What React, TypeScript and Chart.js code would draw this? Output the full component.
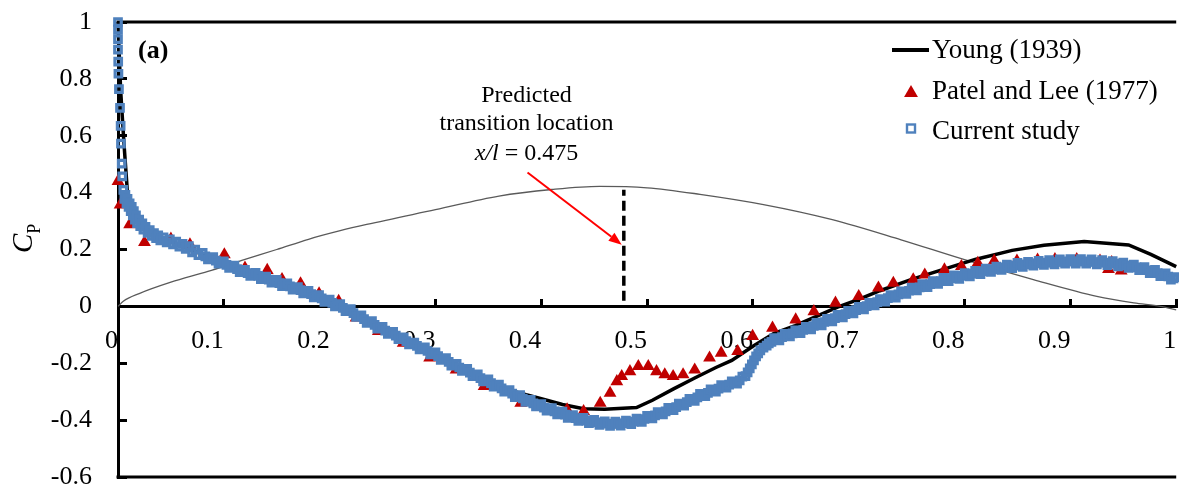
import React, { useEffect, useRef } from 'react';
import { Chart, registerables } from 'chart.js';

Chart.register(...registerables);

const FONT = '"Liberation Serif", "Times New Roman", serif';

const xTickValues = [0, 0.1, 0.2, 0.3, 0.4, 0.5, 0.6, 0.7, 0.8, 0.9, 1];
const xTickLabels = ['0', '0.1', '0.2', '0.3', '0.4', '0.5', '0.6', '0.7', '0.8', '0.9', '1'];
const yTickValues = [-0.6, -0.4, -0.2, 0, 0.2, 0.4, 0.6, 0.8, 1];
const yTickLabels = ['-0.6', '-0.4', '-0.2', '0', '0.2', '0.4', '0.6', '0.8', '1'];

const seriesNames = ['Young (1939)', 'Patel and Lee (1977)', 'Current study'];
const annotationLines = ['Predicted', 'transition location'];
const annotationItalic = 'x/l';
const annotationValue = ' = 0.475';

// Young (1939)
const youngData: [number, number][] = [
  [0, 1.0], [0.0025, 0.76], [0.0056, 0.575], [0.0094, 0.375], [0.015, 0.33], [0.02, 0.3],
  [0.03, 0.265], [0.05, 0.228], [0.075, 0.19], [0.1, 0.155], [0.125, 0.12], [0.15, 0.088],
  [0.175, 0.055], [0.2, 0.02], [0.225, -0.025], [0.25, -0.075], [0.275, -0.122], [0.3, -0.168],
  [0.325, -0.215], [0.35, -0.26], [0.375, -0.3], [0.4, -0.325], [0.42, -0.345], [0.44, -0.36],
  [0.46, -0.362], [0.49, -0.356], [0.505, -0.33], [0.525, -0.29], [0.545, -0.252], [0.565, -0.215],
  [0.58, -0.19], [0.6, -0.14], [0.62, -0.095], [0.64, -0.068], [0.66, -0.035], [0.68, -0.003],
  [0.7, 0.025], [0.72, 0.055], [0.75, 0.095], [0.78, 0.13], [0.81, 0.165], [0.845, 0.197],
  [0.875, 0.215], [0.913, 0.228], [0.955, 0.216], [0.976, 0.183], [1.0, 0.14],
];

// Patel and Lee (1977)
const patelData: [number, number][] = [
  [0, 0.44], [0.002, 0.357], [0.011, 0.288], [0.025, 0.225], [0.05, 0.237], [0.068, 0.217],
  [0.1005, 0.182], [0.12, 0.135], [0.141, 0.127], [0.155, 0.095], [0.1725, 0.08], [0.19, 0.045],
  [0.2085, 0.018], [0.225, -0.04], [0.246, -0.088], [0.2695, -0.129], [0.2945, -0.181],
  [0.3195, -0.223], [0.346, -0.281], [0.3806, -0.34], [0.4244, -0.363], [0.44, -0.369],
  [0.4557, -0.34], [0.465, -0.305], [0.4714, -0.264], [0.476, -0.246], [0.4838, -0.229],
  [0.4917, -0.211], [0.5011, -0.211], [0.5089, -0.229], [0.5167, -0.24], [0.5246, -0.246],
  [0.534, -0.24], [0.545, -0.223], [0.559, -0.181], [0.57, -0.164], [0.5856, -0.158],
  [0.5997, -0.105], [0.6185, -0.076], [0.6404, -0.047], [0.6576, -0.018], [0.678, 0.012],
  [0.7, 0.035], [0.7186, 0.065], [0.7327, 0.082], [0.7515, 0.094], [0.7624, 0.111],
  [0.781, 0.129], [0.797, 0.141], [0.8125, 0.152], [0.828, 0.16], [0.8495, 0.16],
  [0.869, 0.163], [0.8854, 0.165], [0.906, 0.165], [0.928, 0.16], [0.936, 0.13], [0.939, 0.155],
  [0.948, 0.125],
];

// Current study: readings along the band edges
const currentData: [number, number][] = [
  [0, 1.0], [0, 0.973], [0, 0.94], [0, 0.903], [0.0002, 0.861],
  [0.0004, 0.818], [0.0009, 0.764], [0.0019, 0.698], [0.0025, 0.635], [0.0028, 0.572],
  [0.0035, 0.502], [0.004, 0.457], [0.005, 0.41],
  [0.006, 0.378], [0.007, 0.392], [0.008, 0.362], [0.009, 0.378], [0.01, 0.35], [0.011, 0.362],
  [0.012, 0.335], [0.013, 0.35], [0.014, 0.32], [0.015, 0.335], [0.016, 0.305], [0.017, 0.32],
  [0.018, 0.293], [0.02, 0.305], [0.021, 0.282], [0.023, 0.292], [0.024, 0.27], [0.026, 0.28],
  [0.028, 0.258], [0.03, 0.268], [0.032, 0.248], [0.034, 0.258], [0.036, 0.24], [0.038, 0.25],
  [0.04, 0.232], [0.043, 0.243], [0.046, 0.225], [0.049, 0.236], [0.052, 0.218], [0.055, 0.228],
  [0.058, 0.21], [0.061, 0.22], [0.064, 0.202], [0.067, 0.212], [0.07, 0.19], [0.073, 0.2],
  [0.076, 0.18], [0.08, 0.188], [0.085, 0.165], [0.09, 0.173], [0.095, 0.15], [0.1, 0.158],
  [0.105, 0.135], [0.11, 0.143], [0.115, 0.12], [0.12, 0.128], [0.125, 0.107], [0.13, 0.118],
  [0.135, 0.096], [0.14, 0.105], [0.145, 0.083], [0.15, 0.093], [0.155, 0.071], [0.16, 0.081],
  [0.165, 0.059], [0.17, 0.068], [0.175, 0.046], [0.18, 0.055], [0.185, 0.032], [0.19, 0.04],
  [0.195, 0.016], [0.2, 0.024], [0.205, 0.0], [0.21, 0.008], [0.215, -0.017], [0.22, -0.01],
  [0.225, -0.037], [0.23, -0.032], [0.235, -0.058], [0.24, -0.052], [0.245, -0.078], [0.25, -0.072],
  [0.255, -0.097], [0.26, -0.09], [0.265, -0.115], [0.27, -0.109], [0.275, -0.134], [0.28, -0.127],
  [0.285, -0.151], [0.29, -0.144], [0.295, -0.169], [0.3, -0.162], [0.305, -0.188], [0.31, -0.182],
  [0.315, -0.208], [0.32, -0.202], [0.325, -0.227], [0.33, -0.22], [0.335, -0.245], [0.34, -0.239],
  [0.345, -0.264], [0.35, -0.257], [0.355, -0.282], [0.36, -0.275], [0.365, -0.3], [0.37, -0.294],
  [0.375, -0.319], [0.38, -0.312], [0.385, -0.336], [0.39, -0.329], [0.395, -0.352], [0.4, -0.344],
  [0.405, -0.367], [0.41, -0.358], [0.415, -0.38], [0.42, -0.37], [0.425, -0.392], [0.43, -0.382],
  [0.435, -0.403], [0.44, -0.392], [0.445, -0.411], [0.45, -0.399], [0.455, -0.417], [0.46, -0.404],
  [0.465, -0.42], [0.47, -0.405], [0.475, -0.419], [0.48, -0.402], [0.485, -0.414], [0.49, -0.395],
  [0.495, -0.406], [0.5, -0.385], [0.505, -0.394], [0.51, -0.372], [0.515, -0.38], [0.52, -0.357],
  [0.525, -0.365], [0.53, -0.342], [0.535, -0.349], [0.54, -0.325], [0.545, -0.332], [0.55, -0.308],
  [0.555, -0.316], [0.56, -0.292], [0.565, -0.3], [0.57, -0.277], [0.575, -0.286], [0.58, -0.264],
  [0.585, -0.272], [0.59, -0.247], [0.593, -0.245], [0.595, -0.232], [0.597, -0.218], [0.599, -0.204],
  [0.601, -0.19], [0.603, -0.176], [0.605, -0.165], [0.607, -0.155], [0.61, -0.145], [0.613, -0.138],
  [0.615, -0.13], [0.62, -0.112], [0.625, -0.12], [0.63, -0.097], [0.635, -0.106], [0.64, -0.084],
  [0.645, -0.094], [0.65, -0.072], [0.655, -0.081], [0.66, -0.058], [0.665, -0.067], [0.67, -0.044],
  [0.675, -0.053], [0.68, -0.03], [0.685, -0.039], [0.69, -0.016], [0.695, -0.025], [0.7, -0.002],
  [0.705, -0.011], [0.71, 0.012], [0.715, 0.003], [0.72, 0.026], [0.725, 0.017], [0.73, 0.04],
  [0.735, 0.031], [0.74, 0.053], [0.745, 0.044], [0.75, 0.066], [0.755, 0.056], [0.76, 0.078],
  [0.765, 0.068], [0.77, 0.089], [0.775, 0.079], [0.78, 0.1], [0.785, 0.089], [0.79, 0.109],
  [0.795, 0.097], [0.8, 0.117], [0.805, 0.105], [0.81, 0.125], [0.815, 0.113], [0.82, 0.133],
  [0.825, 0.121], [0.83, 0.14], [0.835, 0.128], [0.84, 0.147], [0.845, 0.134], [0.85, 0.153],
  [0.855, 0.139], [0.86, 0.157], [0.865, 0.143], [0.87, 0.16], [0.875, 0.146], [0.88, 0.163],
  [0.885, 0.148], [0.89, 0.165], [0.895, 0.15], [0.9, 0.166], [0.905, 0.15], [0.91, 0.166],
  [0.915, 0.15], [0.92, 0.165], [0.925, 0.148], [0.93, 0.163], [0.935, 0.145], [0.94, 0.159],
  [0.945, 0.141], [0.95, 0.154], [0.955, 0.135], [0.96, 0.147], [0.965, 0.127], [0.97, 0.138],
  [0.975, 0.117], [0.98, 0.128], [0.985, 0.106], [0.99, 0.116], [0.995, 0.094], [1.0, 0.103],
];

// Current study: readings along the band centre
const currentMid: [number, number][] = [
  [0.0825, 0.176], [0.0875, 0.169], [0.0925, 0.161], [0.0975, 0.154], [0.1025, 0.146],
  [0.1075, 0.139], [0.1125, 0.131], [0.1175, 0.124], [0.1225, 0.117], [0.1275, 0.112],
  [0.1325, 0.107], [0.1375, 0.1], [0.1425, 0.094], [0.1475, 0.088], [0.1525, 0.082],
  [0.1575, 0.076], [0.1625, 0.07], [0.1675, 0.063], [0.1725, 0.057], [0.1775, 0.05],
  [0.1825, 0.043], [0.1875, 0.036], [0.1925, 0.028], [0.1975, 0.02], [0.2025, 0.012],
  [0.2075, 0.004], [0.2125, -0.005], [0.2175, -0.014], [0.2225, -0.024], [0.2275, -0.035],
  [0.2325, -0.045], [0.2375, -0.055], [0.2425, -0.065], [0.2475, -0.075], [0.2525, -0.085],
  [0.2575, -0.094], [0.2625, -0.103], [0.2675, -0.112], [0.2725, -0.122], [0.2775, -0.131],
  [0.2825, -0.139], [0.2875, -0.148], [0.2925, -0.157], [0.2975, -0.166], [0.3025, -0.175],
  [0.3075, -0.185], [0.3125, -0.195], [0.3175, -0.205], [0.3225, -0.215], [0.3275, -0.224],
  [0.3325, -0.233], [0.3375, -0.242], [0.3425, -0.252], [0.3475, -0.261], [0.3525, -0.27],
  [0.3575, -0.279], [0.3625, -0.288], [0.3675, -0.297], [0.3725, -0.307], [0.3775, -0.316],
  [0.3825, -0.324], [0.3875, -0.333], [0.3925, -0.341], [0.3975, -0.348], [0.4025, -0.356],
  [0.4075, -0.363], [0.4125, -0.369], [0.4175, -0.375], [0.4225, -0.381], [0.4275, -0.387],
  [0.4325, -0.393], [0.4375, -0.398], [0.4425, -0.402], [0.4475, -0.405], [0.4525, -0.408],
  [0.4575, -0.411], [0.4625, -0.412], [0.4675, -0.413], [0.4725, -0.412], [0.4775, -0.411],
  [0.4825, -0.408], [0.4875, -0.405], [0.4925, -0.401], [0.4975, -0.396], [0.5025, -0.39],
  [0.5075, -0.383], [0.5125, -0.376], [0.5175, -0.369], [0.5225, -0.361], [0.5275, -0.354],
  [0.5325, -0.346], [0.5375, -0.337], [0.5425, -0.329], [0.5475, -0.32], [0.5525, -0.312],
  [0.5575, -0.304], [0.5625, -0.296], [0.5675, -0.289], [0.5725, -0.282], [0.5775, -0.275],
  [0.5825, -0.268], [0.5875, -0.26], [0.6175, -0.125], [0.6225, -0.116], [0.6275, -0.108],
  [0.6325, -0.102], [0.6375, -0.095], [0.6425, -0.089], [0.6475, -0.083], [0.6525, -0.076],
  [0.6575, -0.069], [0.6625, -0.062], [0.6675, -0.055], [0.6725, -0.048], [0.6775, -0.041],
  [0.6825, -0.034], [0.6875, -0.027], [0.6925, -0.02], [0.6975, -0.013], [0.7025, -0.006],
  [0.7075, 0.001], [0.7125, 0.008], [0.7175, 0.015], [0.7225, 0.022], [0.7275, 0.029],
  [0.7325, 0.035], [0.7375, 0.042], [0.7425, 0.049], [0.7475, 0.055], [0.7525, 0.061],
  [0.7575, 0.067], [0.7625, 0.073], [0.7675, 0.078], [0.7725, 0.084], [0.7775, 0.089],
  [0.7825, 0.094], [0.7875, 0.099], [0.7925, 0.103], [0.7975, 0.107], [0.8025, 0.111],
  [0.8075, 0.115], [0.8125, 0.119], [0.8175, 0.123], [0.8225, 0.127], [0.8275, 0.13],
  [0.8325, 0.134], [0.8375, 0.137], [0.8425, 0.14], [0.8475, 0.143], [0.8525, 0.146],
  [0.8575, 0.148], [0.8625, 0.15], [0.8675, 0.151], [0.8725, 0.153], [0.8775, 0.154],
  [0.8825, 0.155], [0.8875, 0.156], [0.8925, 0.157], [0.8975, 0.158], [0.9025, 0.158],
  [0.9075, 0.158], [0.9125, 0.158], [0.9175, 0.157], [0.9225, 0.156], [0.9275, 0.155],
  [0.9325, 0.154], [0.9375, 0.152], [0.9425, 0.15], [0.9475, 0.147], [0.9525, 0.144],
  [0.9575, 0.141], [0.9625, 0.137], [0.9675, 0.132], [0.9725, 0.127], [0.9775, 0.122],
  [0.9825, 0.117], [0.9875, 0.111], [0.9925, 0.105], [0.9975, 0.098],
];

// Body profile sketch (thin grey curve)
const bodyProfile: [number, number][] = [
  [0, 0], [0.005, 0.018], [0.02, 0.045], [0.05, 0.085], [0.085, 0.123], [0.117, 0.162],
  [0.15, 0.2], [0.18, 0.236], [0.21, 0.266], [0.235, 0.288], [0.3, 0.34], [0.36, 0.388],
  [0.41, 0.411], [0.455, 0.422], [0.5, 0.417], [0.55, 0.394], [0.61, 0.358], [0.675, 0.305],
  [0.74, 0.234], [0.8, 0.164], [0.865, 0.094], [0.925, 0.035], [0.96, 0.012], [0.985, 0.0],
  [1.0, -0.012],
];

// Predicted transition location marker
const transitionLine: [number, number][] = [[0.478, 0.02], [0.478, 0.41]];

const toXY = (arr: [number, number][]) => arr.map(([x, y]) => ({ x, y }));
const currentAll = [...currentData, ...currentMid].sort((a, b) => a[0] - b[0]);

const overlayPlugin = {
  id: 'overlay',
  beforeDatasetsDraw(chart: any) {
    const { ctx, chartArea: a } = chart;
    ctx.save();
    ctx.strokeStyle = '#000';
    ctx.lineWidth = 3;
    ctx.beginPath();
    ctx.moveTo(a.left - 1.5, a.top);
    ctx.lineTo(a.right, a.top);
    ctx.moveTo(a.left - 1.5, a.bottom);
    ctx.lineTo(a.right, a.bottom);
    ctx.stroke();
    ctx.restore();
  },
  afterDraw(chart: any) {
    const { ctx } = chart;
    const xs = chart.scales.x;
    const ys = chart.scales.y;
    const px = (v: number) => xs.getPixelForValue(v);
    const py = (v: number) => ys.getPixelForValue(v);
    ctx.save();
    ctx.fillStyle = '#000';
    ctx.textBaseline = 'alphabetic';

    // (a)
    ctx.font = `bold 26px ${FONT}`;
    ctx.textAlign = 'left';
    ctx.fillText('(a)', 138, 58);

    // annotation text
    ctx.font = `24px ${FONT}`;
    ctx.textAlign = 'center';
    const cx = px(0.386);
    ctx.fillText(annotationLines[0], cx, 102);
    ctx.fillText(annotationLines[1], cx, 130);
    ctx.font = `italic 24px ${FONT}`;
    const w1 = ctx.measureText(annotationItalic).width;
    ctx.font = `24px ${FONT}`;
    const w2 = ctx.measureText(annotationValue).width;
    const sx = cx - (w1 + w2) / 2;
    ctx.textAlign = 'left';
    ctx.font = `italic 24px ${FONT}`;
    ctx.fillText(annotationItalic, sx, 159.5);
    ctx.font = `24px ${FONT}`;
    ctx.fillText(annotationValue, sx + w1, 159.5);

    // red arrow
    const x1 = px(0.387), y1 = py(0.471), x2 = px(0.476), y2 = py(0.217);
    const ang = Math.atan2(y2 - y1, x2 - x1);
    const hl = 13, hw = 5;
    const bx = x2 - hl * Math.cos(ang), by = y2 - hl * Math.sin(ang);
    ctx.strokeStyle = '#FF0000';
    ctx.fillStyle = '#FF0000';
    ctx.lineWidth = 2;
    ctx.beginPath();
    ctx.moveTo(x1, y1);
    ctx.lineTo(bx, by);
    ctx.stroke();
    ctx.beginPath();
    ctx.moveTo(x2, y2);
    ctx.lineTo(bx + hw * Math.sin(ang), by - hw * Math.cos(ang));
    ctx.lineTo(bx - hw * Math.sin(ang), by + hw * Math.cos(ang));
    ctx.closePath();
    ctx.fill();

    // legend
    ctx.fillStyle = '#000';
    ctx.font = `27px ${FONT}`;
    ctx.textAlign = 'left';
    ctx.strokeStyle = '#000';
    ctx.lineWidth = 4;
    ctx.beginPath();
    ctx.moveTo(892, 50);
    ctx.lineTo(929, 50);
    ctx.stroke();
    ctx.fillText(seriesNames[0], 932, 58);

    const tr = 8, tcx = 911, tcy = 93;
    ctx.fillStyle = '#C00000';
    ctx.beginPath();
    ctx.moveTo(tcx, tcy - tr);
    ctx.lineTo(tcx + 0.866 * tr, tcy + 0.5 * tr);
    ctx.lineTo(tcx - 0.866 * tr, tcy + 0.5 * tr);
    ctx.closePath();
    ctx.fill();
    ctx.fillStyle = '#000';
    ctx.fillText(seriesNames[1], 932, 98.5);

    ctx.strokeStyle = '#4F81BD';
    ctx.lineWidth = 2.4;
    ctx.strokeRect(911 - 4, 128.5 - 4, 8, 8);
    ctx.fillText(seriesNames[2], 932, 138.5);

    // y-axis title C_P
    ctx.translate(32, 253);
    ctx.rotate(-Math.PI / 2);
    ctx.font = `italic 29px ${FONT}`;
    ctx.fillText('C', 0, 0);
    const cw = ctx.measureText('C').width;
    ctx.font = `18px ${FONT}`;
    ctx.fillText('P', cw, 8);
    ctx.restore();
  },
};

export default function App() {
  const ref = useRef<HTMLCanvasElement>(null);
  useEffect(() => {
    document.body.style.margin = '0';
    const canvas = ref.current;
    if (!canvas) return;
    const chart = new Chart(canvas, {
      type: 'scatter',
      data: {
        datasets: [
          {
            label: seriesNames[2],
            data: toXY(currentAll),
            showLine: false,
            pointStyle: 'rect',
            pointRadius: 4.6,
            pointBorderWidth: 3.2,
            pointBorderColor: '#4F81BD',
            pointBackgroundColor: 'rgba(0,0,0,0)',
            order: 1,
            clip: false,
          } as any,
          {
            label: seriesNames[1],
            data: toXY(patelData),
            showLine: false,
            pointStyle: 'triangle',
            pointRadius: 7.4,
            pointBorderWidth: 0,
            pointBackgroundColor: '#C00000',
            pointBorderColor: '#C00000',
            order: 2,
            clip: false,
          } as any,
          {
            label: seriesNames[0],
            data: toXY(youngData),
            showLine: true,
            borderColor: '#000',
            borderWidth: 3.5,
            pointRadius: 0,
            tension: 0,
            order: 3,
            clip: false,
          } as any,
          {
            label: 'transition',
            data: toXY(transitionLine),
            showLine: true,
            borderColor: '#000',
            borderWidth: 3.5,
            borderDash: [10, 5],
            pointRadius: 0,
            order: 4,
          } as any,
          {
            label: 'body',
            data: toXY(bodyProfile),
            showLine: true,
            borderColor: '#5a5a5a',
            borderWidth: 1.3,
            pointRadius: 0,
            cubicInterpolationMode: 'monotone',
            order: 5,
            clip: false,
          } as any,
        ],
      },
      options: {
        animation: false,
        responsive: false,
        devicePixelRatio: 1,
        events: [],
        layout: { padding: { left: 0, right: 0, top: 22, bottom: 12 } },
        plugins: { legend: { display: false }, tooltip: { enabled: false } },
        scales: {
          x: {
            type: 'linear',
            position: { y: 0 } as any,
            min: 0,
            max: 1,
            afterBuildTicks: (s: any) => { s.ticks = xTickValues.map((v) => ({ value: v })); },
            afterFit: (s: any) => { s.height = 0; s.paddingLeft = 0; s.paddingRight = 0; },
            ticks: {
              autoSkip: false,
              maxRotation: 0,
              align: 'end',
              padding: 28,
              color: '#000',
              font: { family: FONT, size: 26 },
              callback: (_v: any, i: number) => xTickLabels[i],
            },
            grid: {
              display: true,
              drawOnChartArea: false,
              drawTicks: true,
              tickLength: -9,
              tickWidth: 3,
              tickColor: '#000',
              lineWidth: 3,
              color: '#000',
            },
            border: { display: true, color: '#000', width: 3 },
          } as any,
          y: {
            type: 'linear',
            position: 'left',
            min: -0.6,
            max: 1,
            afterBuildTicks: (s: any) => { s.ticks = yTickValues.map((v) => ({ value: v })); },
            afterFit: (s: any) => { s.width = 118; s.paddingTop = 0; s.paddingBottom = 0; },
            ticks: {
              autoSkip: false,
              padding: 35,
              color: '#000',
              font: { family: FONT, size: 26 },
              callback: (_v: any, i: number) => yTickLabels[i],
            },
            grid: {
              display: true,
              drawOnChartArea: false,
              drawTicks: true,
              tickLength: -9,
              tickWidth: 3,
              tickColor: '#000',
              lineWidth: 3,
              color: '#000',
            },
            border: { display: true, color: '#000', width: 3 },
          } as any,
        },
      },
      plugins: [overlayPlugin],
    });
    return () => chart.destroy();
  }, []);
  return (
    <div style={{ width: 1179, height: 489, overflow: 'hidden', position: 'relative' }}>
      <canvas ref={ref} width={1184} height={489} style={{ display: 'block', width: 1184, height: 489 }} />
    </div>
  );
}
